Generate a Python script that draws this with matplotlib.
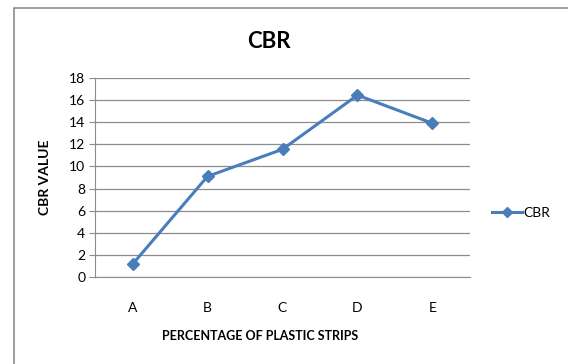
import matplotlib
matplotlib.use("Agg")
from matplotlib import pyplot as plt
from matplotlib.patches import Rectangle

categories = ['A', 'B', 'C', 'D', 'E']
cbr = [1.15, 9.1, 11.55, 16.45, 13.9]
yticks = [0, 2, 4, 6, 8, 10, 12, 14, 16, 18]

plt.rcParams['font.family'] = ['Lato', 'DejaVu Sans']

fig = plt.figure(figsize=(5.68, 3.64), dpi=100)
fig.patch.set_facecolor('white')

# outer chart frame (only left and top visible)
fig.patches.append(Rectangle((14 / 568, -0.1), 1.2, 1 - 8 / 364 + 0.1,
                             transform=fig.transFigure, fill=False,
                             edgecolor='#8c8c8c', linewidth=1.2))

ax = fig.add_axes([95 / 568, 1 - 277 / 364, 375 / 568, 199 / 364])
x = range(len(categories))
ax.plot(x, cbr, color='#4A7EBB', linewidth=2.2, marker='D', markersize=6,
        label='CBR')
ax.set_xlim(-0.5, len(categories) - 0.5)
ax.set_ylim(0, 18)
ax.set_yticks(yticks)
ax.set_xticks(list(x))
ax.set_xticklabels(categories)
ax.grid(axis='y', color='#8c8c8c', linewidth=0.9)
ax.set_axisbelow(True)
for s in ['top', 'right']:
    ax.spines[s].set_visible(False)
ax.spines['left'].set_color('#8c8c8c')
ax.spines['bottom'].set_color('#8c8c8c')
ax.tick_params(axis='y', length=4, color='#8c8c8c', labelsize=10, pad=3)
ax.tick_params(axis='x', length=0, labelsize=10, pad=18)

fig.text(269 / 568, 1 - 42 / 364, 'CBR', ha='center', va='center',
         fontsize=16, fontweight='bold')
fig.text(45 / 568, 1 - 177 / 364, 'CBR VALUE', ha='center', va='center',
         rotation=90, fontsize=10, fontweight='bold')
fig.text(260 / 568, 1 - 336 / 364, 'PERCENTAGE OF PLASTIC STRIPS',
         ha='center', va='center', fontsize=9, fontweight='bold')

ax.legend(loc='center left', bbox_to_anchor=(486 / 568, 1 - 213 / 364),
          bbox_transform=fig.transFigure, frameon=False, fontsize=10,
          handlelength=2.2, handletextpad=0.1, borderaxespad=0,
          markerscale=0.8)

fig.savefig('out.png', dpi=100)
